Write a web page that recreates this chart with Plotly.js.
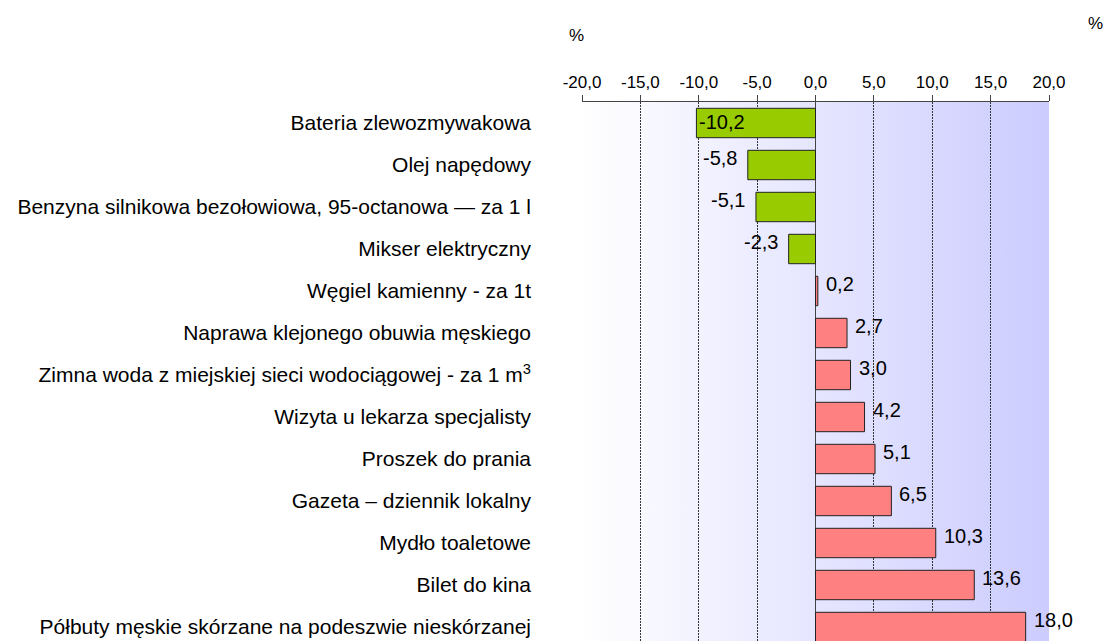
<!DOCTYPE html>
<html>
<head>
<meta charset="utf-8">
<script src="https://cdn.plot.ly/plotly-3.0.1.min.js"></script>
<style>
html,body{margin:0;padding:0;overflow:hidden;background:#fff;}
#chart{width:1107px;height:660px;}
</style>
</head>
<body>
<div id="chart"></div>
<script>
const categories = [
  "Bateria zlewozmywakowa",
  "Olej napędowy",
  "Benzyna silnikowa bezołowiowa, 95-octanowa — za 1 l",
  "Mikser elektryczny",
  "Węgiel kamienny - za 1t",
  "Naprawa klejonego obuwia męskiego",
  "Zimna woda z miejskiej sieci wodociągowej - za 1 m<sup>3</sup>",
  "Wizyta u lekarza specjalisty",
  "Proszek do prania",
  "Gazeta – dziennik lokalny",
  "Mydło toaletowe",
  "Bilet do kina",
  "Półbuty męskie skórzane na podeszwie nieskórzanej"
];
const values = [-10.2, -5.8, -5.1, -2.3, 0.2, 2.7, 3.0, 4.2, 5.1, 6.5, 10.3, 13.6, 18.0];
const tickValues = [-20, -15, -10, -5, 0, 5, 10, 15, 20];
const tickLabels = ["-20,0", "-15,0", "-10,0", "-5,0", "0,0", "5,0", "10,0", "15,0", "20,0"];
const unitLabel = "%";

const fmt = v => v.toFixed(1).replace(".", ",");
const colors = values.map(v => v < 0 ? "#99cc00" : "#ff8080");

const gradSvg = '<svg xmlns="http://www.w3.org/2000/svg" width="100" height="10" preserveAspectRatio="none">' +
  '<defs><linearGradient id="g" x1="0" y1="0" x2="1" y2="0">' +
  '<stop offset="0" stop-color="#ffffff"/><stop offset="1" stop-color="#ccccff"/>' +
  '</linearGradient></defs><rect width="100" height="10" fill="url(#g)"/></svg>';
const gradUri = "data:image/svg+xml;base64," + btoa(gradSvg);

const font = "Arial, 'Liberation Sans', sans-serif";

const trace = {
  type: "bar",
  orientation: "h",
  y: categories,
  x: values,
  width: 0.7,
  marker: {color: colors, line: {color: "#222", width: 1}},
  hoverinfo: "x+y"
};

// value labels, positioned from the data values
const valueLabels = values.map((v, i) => {
  let anchor, shift, ys = 7;
  if (v <= -10) { anchor = "left"; shift = 1; ys = 1; }
  else if (v < 0) { anchor = "right"; shift = -9; }
  else { anchor = "left"; shift = 6; }
  return {
    text: fmt(v), x: v, y: categories[i], xref: "x", yref: "y",
    xanchor: anchor, yanchor: "middle", xshift: shift, yshift: ys,
    showarrow: false, font: {family: font, size: 20, color: "#000"}
  };
});

const layout = {
  width: 1107,
  height: 660,
  margin: {l: 582, r: 58, t: 102, b: 12},
  paper_bgcolor: "#ffffff",
  plot_bgcolor: "rgba(0,0,0,0)",
  showlegend: false,
  font: {family: font, size: 17, color: "#000"},
  xaxis: {
    side: "top",
    range: [-20, 20],
    tickvals: tickValues,
    ticktext: tickLabels,
    ticks: "outside",
    ticklen: 6,
    tickcolor: "#444",
    showline: true,
    linecolor: "#444",
    linewidth: 1,
    showgrid: true,
    gridcolor: "#333",
    griddash: "2px,1px",
    gridwidth: 1,
    zeroline: true,
    zerolinecolor: "#444",
    zerolinewidth: 1,
    tickfont: {family: font, size: 17, color: "#000"},
    fixedrange: true
  },
  yaxis: {
    autorange: "reversed",
    type: "category",
    showgrid: false,
    zeroline: false,
    showline: false,
    ticks: "",
    ticklabelstandoff: 50,
    tickfont: {family: font, size: 21, color: "#000"},
    fixedrange: true
  },
  images: [{
    source: gradUri,
    xref: "paper", yref: "paper",
    x: 0, y: 1, sizex: 1, sizey: 1,
    xanchor: "left", yanchor: "top",
    sizing: "stretch",
    layer: "below"
  }],
  annotations: valueLabels.concat([
    {text: unitLabel, xref: "paper", yref: "paper", x: -0.011, y: 1.122, xanchor: "center", yanchor: "middle", showarrow: false, font: {family: font, size: 17}},
    {text: unitLabel, xref: "paper", yref: "paper", x: 1.1, y: 1.144, xanchor: "center", yanchor: "middle", showarrow: false, font: {family: font, size: 17}}
  ])
};

Plotly.newPlot("chart", [trace], layout, {displayModeBar: false, staticPlot: true});
</script>
</body>
</html>
